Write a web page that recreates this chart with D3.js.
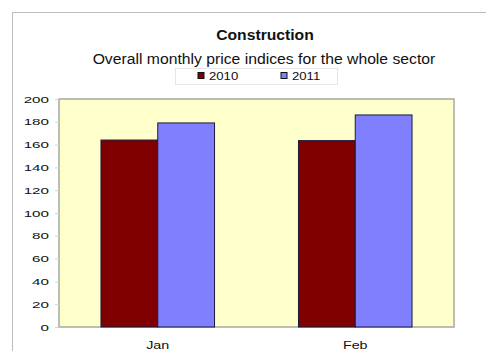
<!DOCTYPE html>
<html><head><meta charset="utf-8">
<script src="https://cdn.jsdelivr.net/npm/d3@7"></script>
<style>html,body{margin:0;padding:0;background:#fff;}svg{display:block;font-family:"Liberation Sans",Arial,sans-serif;}</style>
</head><body>
<script>
const categories = ["Jan", "Feb"];
const seriesNames = ["2010", "2011"];
const values2010 = [164, 163.5];
const values2011 = [179, 186];
const yTicks = [0, 20, 40, 60, 80, 100, 120, 140, 160, 180, 200];
const colors = ["#800000", "#8080ff"];

const W = 486, H = 351;
const svg = d3.select("body").append("svg").attr("width", W).attr("height", H);

// stretch text horizontally (reference picture is widened)
function stretch(sel, f) {
  sel.each(function() {
    const w = this.getComputedTextLength();
    d3.select(this).attr("textLength", w * f).attr("lengthAdjust", "spacingAndGlyphs");
  });
}

// outer chart border
svg.append("rect").attr("x", 12.5).attr("y", 12.5).attr("width", 520).attr("height", 400)
  .attr("fill", "#fff").attr("stroke", "#bdbdbd").attr("stroke-width", 1);

const plot = {left: 59, right: 454, top: 99, bottom: 327};
const x = d3.scaleBand().domain(categories).range([plot.left, plot.right]).paddingInner(0.425).paddingOuter(0.2125);
const xs = d3.scaleBand().domain(seriesNames).range([0, x.bandwidth()]).padding(0);
const y = d3.scaleLinear().domain([0, 200]).range([plot.bottom, plot.top]);

svg.append("rect").attr("x", plot.left).attr("y", plot.top)
  .attr("width", plot.right - plot.left).attr("height", plot.bottom - plot.top)
  .attr("fill", "#ffffcc").attr("stroke", "#a8a8a0").attr("stroke-width", 1.5);

const data = categories.map((c, i) => ({cat: c, vals: [values2010[i], values2011[i]]}));
const g = svg.append("g");
data.forEach(d => {
  d.vals.forEach((v, j) => {
    g.append("rect")
      .attr("x", x(d.cat) + xs(seriesNames[j]))
      .attr("y", y(v))
      .attr("width", xs.bandwidth())
      .attr("height", y(0) - y(v))
      .attr("fill", colors[j])
      .attr("stroke", "#1a1a40").attr("stroke-width", 1);
  });
});

// y axis
const yAxis = d3.axisLeft(y).tickValues(yTicks).tickSize(4).tickPadding(6);
const ya = svg.append("g").attr("transform", `translate(${plot.left},0)`).call(yAxis);
ya.select(".domain").remove();
ya.selectAll(".tick line").attr("stroke", "#d4d4d4");
ya.selectAll("text").attr("font-size", 9.8).attr("fill", "#111");
stretch(ya.selectAll("text"), 1.55);

// x axis
const xAxis = d3.axisBottom(x).tickSize(0).tickPadding(14);
const xa = svg.append("g").attr("transform", `translate(0,${plot.bottom})`).call(xAxis);
xa.select(".domain").remove();
xa.selectAll("text").attr("font-size", 11).attr("fill", "#111");
stretch(xa.selectAll("text"), 1.3);

// titles
const t1 = svg.append("text").attr("x", 265).attr("y", 40).attr("text-anchor", "middle")
  .attr("font-size", 14).attr("font-weight", "bold").attr("fill", "#111").text("Construction");
stretch(t1, 1.12);
const t2 = svg.append("text").attr("x", 264).attr("y", 64).attr("text-anchor", "middle")
  .attr("font-size", 13.8).attr("fill", "#111").text("Overall monthly price indices for the whole sector");
stretch(t2, 1.14);

// legend
svg.append("rect").attr("x", 175.5).attr("y", 68.5).attr("width", 162).attr("height", 16)
  .attr("fill", "none").attr("stroke", "#e6e6e6");
const legX = [198, 281];
seriesNames.forEach((s, j) => {
  svg.append("rect").attr("x", legX[j]).attr("y", 72.5).attr("width", 6).attr("height", 6)
    .attr("fill", colors[j]).attr("stroke", "#111").attr("stroke-width", 1);
  const lt = svg.append("text").attr("x", legX[j] + 11).attr("y", 79.5).attr("font-size", 10.5).attr("fill", "#111").text(s);
  stretch(lt, 1.25);
});
</script>
</body></html>
